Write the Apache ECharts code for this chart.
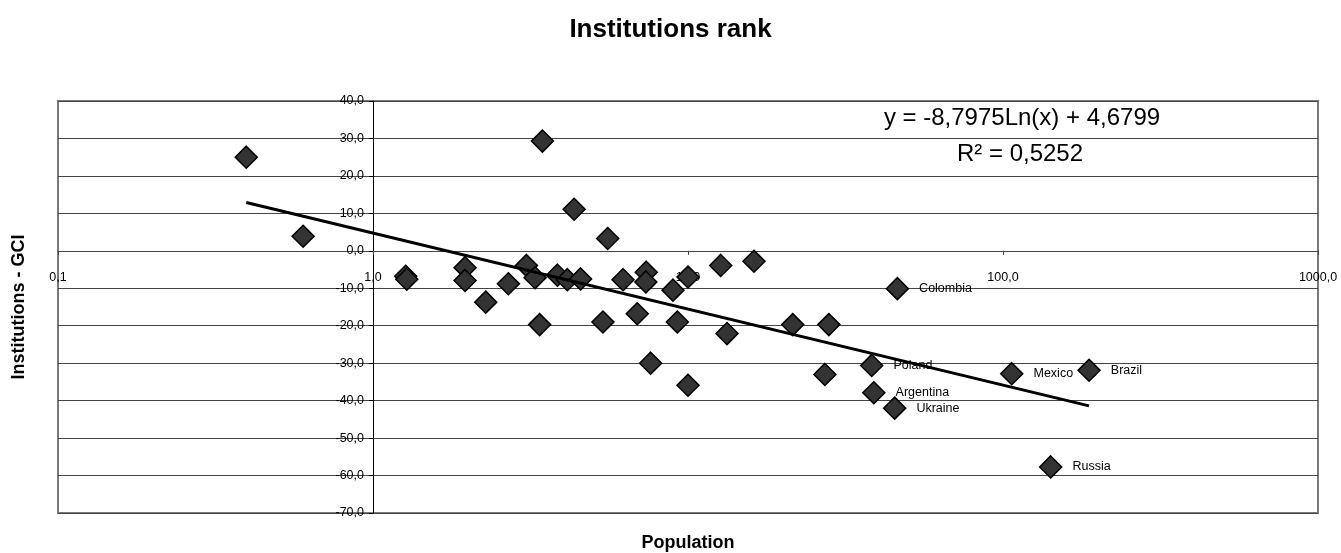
<!DOCTYPE html>
<html>
<head>
<meta charset="utf-8">
<title>Institutions rank</title>
<script src="https://cdn.jsdelivr.net/npm/echarts@6/dist/echarts.min.js"></script>
<style>
  html, body { margin: 0; padding: 0; background: #fff; }
  #main { width: 1341px; height: 553px; }
</style>
</head>
<body>
<div id="main"></div>
<script>
// population (millions) and institutions rank difference
const population = [
  0.396, 0.60, 1.27, 1.28, 1.96, 1.96, 2.28, 2.69, 3.07, 3.27,
  3.38, 3.45, 3.85, 4.14, 4.35, 4.56, 5.37, 5.56, 6.22, 6.90,
  7.37, 7.35, 7.61, 8.96, 9.25, 10.0, 10.0, 12.7, 13.3, 16.2,
  21.5, 27.2, 28.0, 38.3, 38.9, 45.3, 46.2, 106.6, 141.7, 187.6
];
const institutions = [
  25.0, 3.9, -6.8, -7.6, -4.5, -7.9, -13.7, -8.8, -3.9, -7.2,
  -19.7, 29.3, -6.5, -7.7, 11.1, -7.5, -19.0, 3.3, -7.7, -16.8,
  -5.7, -8.3, -30.0, -10.5, -19.0, -7.0, -35.9, -3.9, -22.1, -2.8,
  -19.7, -33.0, -19.7, -30.6, -37.9, -42.0, -10.1, -32.8, -57.7, -31.9
];
const countries = [
  '', '', '', '', '', '', '', '', '', '',
  '', '', '', '', '', '', '', '', '', '',
  '', '', '', '', '', '', '', '', '', '',
  '', '', '', 'Poland', 'Argentina', 'Ukraine', 'Colombia', 'Mexico', 'Russia', 'Brazil'
];

// log trendline end points (straight on a log axis)
const trendX = [0.396, 187.6];
const trendY = [12.9, -41.4];

const equationText = 'y = -8,7975Ln(x) + 4,6799';
const rSquaredText = 'R\u00B2 = 0,5252';

const FONT = '"Liberation Sans", Arial, sans-serif';

const fmt = v => Number(v).toFixed(1).replace('.', ',');

const points = population.map((x, i) => ({
  value: [x, institutions[i]],
  name: countries[i]
}));
const trend = trendX.map((x, i) => [x, trendY[i]]);

const chart = echarts.init(document.getElementById('main'), null, { renderer: 'canvas' });

const gridLeft = 58, gridRight = 23, gridTop = 101, gridBottom = 40;
const plotWidth = 1341 - gridLeft - gridRight;
const plotHeight = 553 - gridTop - gridBottom;
const yMin = -70, yMax = 40;
// shift axes so they cross at x = 1 and y = 0
const xAxisShift = plotHeight * (0 - yMin) / (yMax - yMin);
const yAxisShift = plotWidth / 4;

chart.setOption({
  animation: false,
  backgroundColor: '#fff',
  textStyle: { fontFamily: FONT },
  title: {
    text: 'Institutions rank',
    left: 'center',
    top: 12,
    textStyle: { fontFamily: FONT, fontSize: 26, fontWeight: 'bold', color: '#000' }
  },
  grid: {
    left: gridLeft,
    right: gridRight,
    top: gridTop,
    bottom: gridBottom,
    outerBoundsMode: 'none',
    containLabel: false,
    show: true,
    borderColor: '#7a7a7a',
    borderWidth: 2
  },
  xAxis: {
    type: 'log',
    logBase: 10,
    min: 0.1,
    max: 1000,
    position: 'bottom',
    offset: -xAxisShift,
    name: 'Population',
    nameLocation: 'middle',
    nameGap: 283,
    nameTextStyle: { fontFamily: FONT, fontSize: 18, fontWeight: 'bold', color: '#000' },
    axisLine: { onZero: false, lineStyle: { color: '#444', width: 1.2 } },
    axisTick: { show: true, length: 4, lineStyle: { color: '#444' } },
    axisLabel: {
      margin: 20,
      fontSize: 12.5,
      color: '#000',
      fontFamily: FONT,
      formatter: fmt
    },
    splitLine: { show: false },
    minorTick: { show: false }
  },
  yAxis: {
    type: 'value',
    min: yMin,
    max: yMax,
    interval: 10,
    offset: -yAxisShift,
    name: 'Institutions - GCI',
    nameLocation: 'middle',
    nameGap: 345,
    nameTextStyle: { fontFamily: FONT, fontSize: 18, fontWeight: 'bold', color: '#000' },
    axisLine: { show: true, onZero: false, lineStyle: { color: '#000', width: 1 } },
    axisTick: { show: true, length: 4, lineStyle: { color: '#000' } },
    axisLabel: {
      margin: 9,
      fontSize: 12.5,
      color: '#000',
      fontFamily: FONT,
      formatter: fmt
    },
    splitLine: { show: true, lineStyle: { color: '#444', width: 1.2 } }
  },
  graphic: [
    {
      type: 'text',
      x: 1022,
      y: 118,
      style: {
        text: equationText,
        font: '24px ' + FONT,
        fill: '#000',
        textAlign: 'center',
        textVerticalAlign: 'middle'
      }
    },
    {
      type: 'text',
      x: 1020,
      y: 154,
      style: {
        text: rSquaredText,
        font: '24px ' + FONT,
        fill: '#000',
        textAlign: 'center',
        textVerticalAlign: 'middle'
      }
    }
  ],
  series: [
    {
      type: 'scatter',
      data: points,
      symbol: 'diamond',
      symbolSize: 22,
      itemStyle: { color: '#333333', borderColor: '#000', borderWidth: 1.5, opacity: 1 },
      label: {
        show: true,
        position: 'right',
        distance: 10,
        fontSize: 12.5,
        fontFamily: FONT,
        color: '#000',
        formatter: p => p.name
      },
      z: 2
    },
    {
      type: 'line',
      data: trend,
      symbol: 'none',
      lineStyle: { color: '#000', width: 3 },
      z: 3
    }
  ]
});
</script>
</body>
</html>
